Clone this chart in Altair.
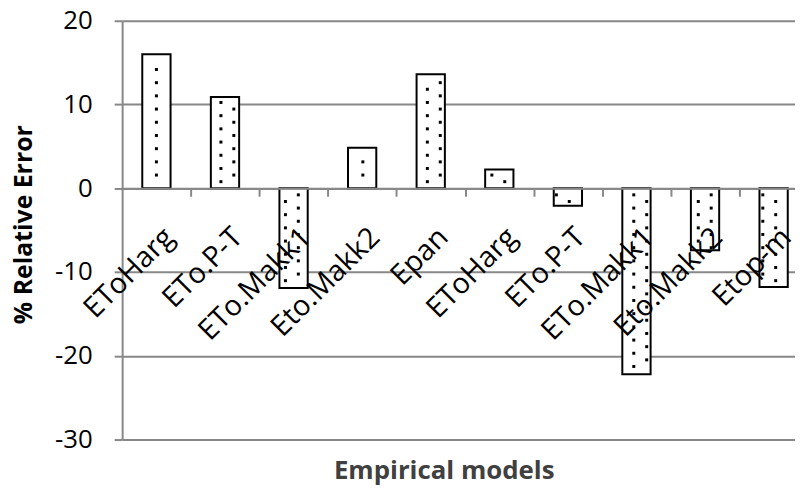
import altair as alt
import pandas as pd

# ---- data ----
categories = ["EToHarg", "ETo.P-T", "ETo.Makk1", "Eto.Makk2", "Epan",
              "EToHarg", "ETo.P-T", "ETo.Makk1", "Eto.Makk2", "Etop-m"]
values = [16.0, 10.9, -11.9, 4.85, 13.6, 2.25, -2.1, -22.2, -7.4, -11.8]
y_ticks = [-30, -20, -10, 0, 10, 20]

# ---- layout (pixels) ----
W, H = 678, 422
TOP = 11
BAND = 69.1
y_min, y_max = -30, 20
px_per_unit = H / (y_max - y_min)
zero_px = (y_max - 0) * px_per_unit
x_max = W / BAND - 0.5
half_w = 14.25 / BAND
GRAY = "#888888"
FONT = "Open Sans"

bars = pd.DataFrame({"x": list(range(len(values))), "value": values,
                     "name": categories})
bars["x1"] = bars["x"] - half_w
bars["x2"] = bars["x"] + half_w

# dotted fill texture (derived from the bar extents)
colsp = 13 / BAND
rowsp = 6.65 / px_per_unit
mx = 2.5 / BAND
my = 2.5 / px_per_unit
dots = []
for i, v in enumerate(values):
    lo, hi = min(0, v), max(0, v)
    x0, x1 = i - half_w + mx, i + half_w - mx
    for k in range(int(lo / rowsp) - 2, int(hi / rowsp) + 3):
        yy = k * rowsp
        if not (lo + my < yy < hi - my):
            continue
        phase = (k % 2) * colsp
        for j in range(int((x0 - phase) / (2 * colsp)) - 2,
                       int((x1 - phase) / (2 * colsp)) + 3):
            xx = j * 2 * colsp + phase
            if x0 < xx < x1:
                dots.append({"x": xx, "value": yy})
dots = pd.DataFrame(dots)

x_scale = alt.Scale(domain=[-0.5, x_max], nice=False, zero=False)
y_scale = alt.Scale(domain=[y_min, y_max], nice=False, zero=False)

x_axis = alt.Axis(
    values=[i + 0.5 for i in range(len(values) - 1)],
    offset=-(H - zero_px), orient="bottom",
    labels=False, grid=False,
    tickSize=8, tickColor=GRAY, tickWidth=2,
    domainColor=GRAY, domainWidth=2, zindex=1,
    title="Empirical models", titleFont=FONT, titleFontSize=26,
    titleFontWeight="bold", titleColor="#404040",
    titleX=324, titleY=472 - 8 - TOP - zero_px, titleAlign="center",
    titleBaseline="middle", titleAnchor="middle",
)
y_axis = alt.Axis(
    values=y_ticks, grid=True, gridColor=GRAY, gridWidth=2,
    tickSize=8, tickColor=GRAY, tickWidth=2,
    domainColor=GRAY, domainWidth=2,
    labelFont=FONT, labelFontSize=26, labelColor="#000000", labelPadding=22,
    labelExpr="'' + datum.value",
    title="% Relative Error", titleFont=FONT, titleFontSize=25,
    titleFontWeight="bold", titleColor="#000000",
    titleX=-99, titleY=205, titleAngle=270, titleAlign="center",
    titleBaseline="middle",
)

bar_layer = alt.Chart(bars).mark_bar(
    fill="white", stroke="black", strokeWidth=2
).encode(
    x=alt.X("x1:Q", scale=x_scale, axis=x_axis),
    x2="x2:Q",
    y=alt.Y("value:Q", scale=y_scale, axis=y_axis),
    y2=alt.datum(0),
)

dot_layer = alt.Chart(dots).mark_square(
    size=9, color="black", opacity=1, filled=True
).encode(
    x=alt.X("x:Q", scale=x_scale, axis=x_axis),
    y=alt.Y("value:Q", scale=y_scale, axis=y_axis),
)

label_layer = alt.Chart(bars).mark_text(
    angle=315, align="right", baseline="top", font=FONT, fontSize=29,
    color="#000000", xOffset=3, yOffset=35,
).encode(
    x=alt.X("x:Q", scale=x_scale, axis=x_axis),
    y=alt.datum(0),
    text="name:N",
)

chart = alt.layer(bar_layer, dot_layer, label_layer).properties(
    width=W, height=H,
    autosize=alt.AutoSizeParams(type="none"),
    padding={"left": 115, "top": TOP, "right": 0, "bottom": 50},
).configure_view(stroke=None).configure(background="white")

chart.save("out.html", embed_options={"renderer": "svg", "actions": False})
